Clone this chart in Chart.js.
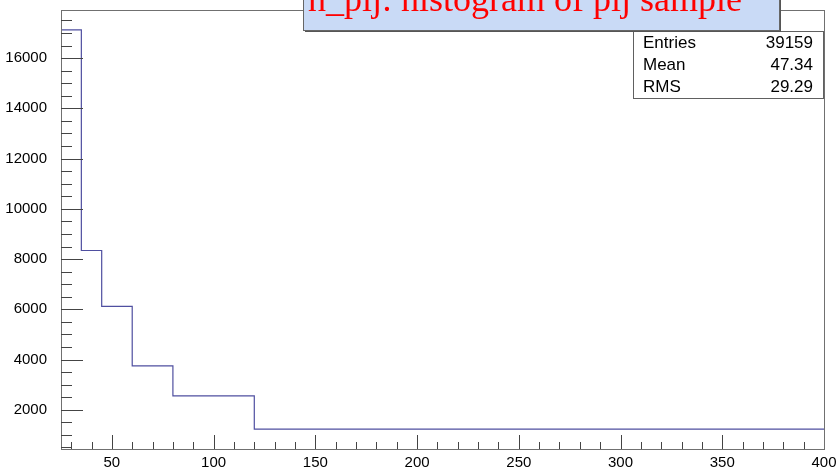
<!DOCTYPE html>
<html>
<head>
<meta charset="utf-8">
<script src="https://cdn.jsdelivr.net/npm/chart.js@4"></script>
<style>
  html, body { margin: 0; padding: 0; background: #fff; }
  #wrap { width: 839px; height: 469px; position: relative; }
</style>
</head>
<body>
<div id="wrap"><canvas id="c" width="839" height="469"></canvas></div>
<script>
// Histogram h_pij: variable-width bins
const binEdges = [25, 35, 45, 60, 80, 120, 400];
const binCounts = [17121, 8342, 6119, 3750, 2557, 1233];

// Axis ranges and tick labels
const xRange = [25, 400];
const yRange = [440, 17915];
const xTickValues = [50, 100, 150, 200, 250, 300, 350, 400];
const yTickValues = [2000, 4000, 6000, 8000, 10000, 12000, 14000, 16000];
const xMinorStep = 10;
const yMinorStep = 500;

// Statistics box
const statNames = ['Entries', 'Mean', 'RMS'];
const statValues = ['39159', '47.34', '29.29'];
const titleText = 'h_pij: histogram of pij sample';

// Step outline: each point opens a bin, last point closes the final bin
const stepPoints = binCounts.map((c, i) => ({ x: binEdges[i], y: c }));
stepPoints.push({ x: binEdges[binEdges.length - 1], y: binCounts[binCounts.length - 1] });

const frameAndTicks = {
  id: 'frameAndTicks',
  afterDatasetsDraw(chart) {
    const ctx = chart.ctx;
    const a = chart.chartArea;
    const xs = chart.scales.x, ys = chart.scales.y;
    ctx.save();
    // frame
    ctx.strokeStyle = '#707070';
    ctx.lineWidth = 1;
    ctx.strokeRect(Math.round(a.left) + 0.5, Math.round(a.top) + 0.5,
                   Math.round(a.right - a.left), Math.round(a.bottom - a.top));
    // x ticks (inward from bottom axis)
    ctx.strokeStyle = '#444';
    ctx.beginPath();
    for (let v = Math.ceil(xRange[0] / xMinorStep) * xMinorStep; v < xRange[1]; v += xMinorStep) {
      const px = Math.round(xs.getPixelForValue(v)) + 0.5;
      const len = (v % 50 === 0) ? 14 : 7;
      ctx.moveTo(px, a.bottom);
      ctx.lineTo(px, a.bottom - len);
    }
    // y ticks (inward from left axis)
    for (let v = Math.ceil(yRange[0] / yMinorStep) * yMinorStep; v < yRange[1]; v += yMinorStep) {
      const py = Math.round(ys.getPixelForValue(v)) + 0.5;
      const len = (v % 2000 === 0) ? 22 : 11;
      ctx.moveTo(a.left, py);
      ctx.lineTo(a.left + len, py);
    }
    ctx.stroke();
    ctx.restore();
  },
  afterDraw(chart) {
    const ctx = chart.ctx;
    ctx.save();
    // statistics box
    const sx = 633.5, sy = 31.5, sw = 190, sh = 67;
    ctx.fillStyle = '#fff';
    ctx.fillRect(sx, sy, sw, sh);
    ctx.strokeStyle = '#606060';
    ctx.lineWidth = 1;
    ctx.strokeRect(sx, sy, sw, sh);
    ctx.font = '17px "Liberation Sans", Arial, sans-serif';
    ctx.fillStyle = '#000';
    ctx.textBaseline = 'middle';
    const rows = [43.5, 65.5, 87.5];
    statNames.forEach((n, i) => {
      ctx.textAlign = 'left';
      ctx.fillText(n, 643, rows[i]);
      ctx.textAlign = 'right';
      ctx.fillText(statValues[i], 813, rows[i]);
    });
    // title box with shadow
    const tx = 303, tyTop = -30, tw = 476, tBottom = 30;
    ctx.fillStyle = '#555';
    ctx.fillRect(tx + 2, tyTop + 2, tw, tBottom - tyTop);
    ctx.fillStyle = '#c9daf6';
    ctx.fillRect(tx, tyTop, tw, tBottom - tyTop);
    ctx.strokeStyle = '#666';
    ctx.strokeRect(tx + 0.5, tyTop + 0.5, tw, tBottom - tyTop);
    ctx.font = '36px "Liberation Serif", "Times New Roman", serif';
    ctx.fillStyle = '#ff0000';
    ctx.textAlign = 'left';
    ctx.textBaseline = 'alphabetic';
    ctx.fillText(titleText, 308, 11);
    ctx.restore();
  }
};

const tickFont = { family: '"Liberation Sans", Arial, sans-serif', size: 15 };

new Chart(document.getElementById('c'), {
  type: 'line',
  data: {
    datasets: [{
      data: stepPoints,
      stepped: 'before',
      borderColor: '#4f4fa0',
      borderWidth: 1.2,
      pointRadius: 0,
      fill: false
    }]
  },
  options: {
    responsive: false,
    animation: false,
    devicePixelRatio: 1,
    layout: { padding: { left: 0, right: 15, top: 10, bottom: 0 } },
    plugins: { legend: { display: false }, tooltip: { enabled: false }, title: { display: false } },
    scales: {
      x: {
        type: 'linear',
        min: xRange[0], max: xRange[1],
        grid: { display: false },
        border: { display: false },
        ticks: { font: tickFont, color: '#000', padding: -3, maxRotation: 0, autoSkip: false,
                 callback: v => String(v) },
        afterBuildTicks(s) { s.ticks = xTickValues.map(v => ({ value: v })); },
        afterFit(s) { s.height = 20; s.paddingLeft = 0; s.paddingRight = 0; }
      },
      y: {
        type: 'linear',
        min: yRange[0], max: yRange[1],
        grid: { display: false },
        border: { display: false },
        ticks: { font: tickFont, color: '#000', padding: 6, autoSkip: false,
                 callback: v => String(v) },
        afterBuildTicks(s) { s.ticks = yTickValues.map(v => ({ value: v })); },
        afterFit(s) { s.width = 61; s.paddingTop = 0; s.paddingBottom = 0; }
      }
    }
  },
  plugins: [frameAndTicks]
});
</script>
</body>
</html>
